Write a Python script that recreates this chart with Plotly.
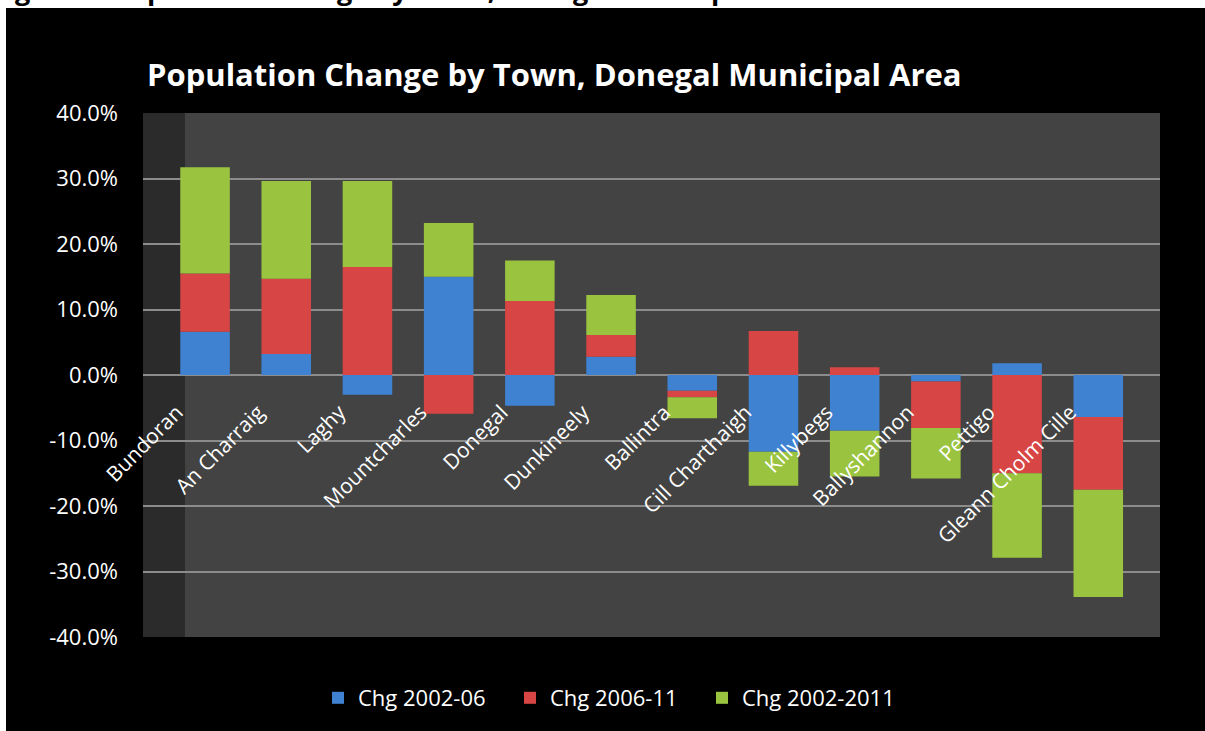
import plotly.graph_objects as go

towns = ["Bundoran", "An Charraig", "Laghy", "Mountcharles", "Donegal", "Dunkineely",
         "Ballintra", "Cill Charthaigh", "Killybegs", "Ballyshannon", "Pettigo", "Gleann Cholm Cille"]
chg_2002_06 = [6.6, 3.2, -3.0, 15.0, -4.7, 2.8, -2.4, -11.7, -8.5, -1.0, 1.8, -6.4]
chg_2006_11 = [8.9, 11.5, 16.5, -5.9, 11.3, 3.3, -1.0, 6.7, 1.2, -7.1, -15.0, -11.1]
chg_2002_2011 = [16.2, 14.9, 13.1, 8.2, 6.2, 6.1, -3.2, -5.2, -7.0, -7.7, -12.9, -16.4]

series_names = ["Chg 2002-06", "Chg 2006-11", "Chg 2002-2011"]
series_colors = ["#3f82d2", "#d84545", "#9ac43f"]

y_tick_vals = [40, 30, 20, 10, 0, -10, -20, -30, -40]
y_tick_text = ["40.0%", "30.0%", "20.0%", "10.0%", "0.0%", "-10.0%", "-20.0%", "-30.0%", "-40.0%"]

W, H = 1205, 731
L, R, T, B = 143, 1160, 113, 637
pw, ph = R - L, B - T

def px_x(x):
    return (x - L) / pw

def px_y(y):
    return (B - y) / ph

FONT = "Open Sans"

fig = go.Figure()
for name, vals, col in zip(series_names, [chg_2002_06, chg_2006_11, chg_2002_2011], series_colors):
    fig.add_trace(go.Bar(x=list(range(len(towns))), y=vals, name=name,
                         marker=dict(color=col, line=dict(width=0))))

shapes = [
    # white page strips (outside chart area)
    dict(type="rect", xref="paper", yref="paper", x0=px_x(0), x1=px_x(W), y0=px_y(8), y1=px_y(0),
         fillcolor="white", line=dict(width=0), layer="above"),
    dict(type="rect", xref="paper", yref="paper", x0=px_x(0), x1=px_x(6), y0=px_y(H), y1=px_y(0),
         fillcolor="white", line=dict(width=0), layer="above"),
    # darker left side wall
    dict(type="rect", xref="paper", yref="paper", x0=0, x1=px_x(185), y0=0, y1=1,
         fillcolor="#2b2b2b", line=dict(width=0), layer="below"),
]

fig.update_layout(
    width=W, height=H,
    margin=dict(l=L, r=W - R, t=T, b=H - B, autoexpand=False),
    paper_bgcolor="black",
    plot_bgcolor="#434343",
    barmode="relative",
    bargap=0.39,
    font=dict(family=FONT, color="white", size=21),
    title=dict(text="<b>Population Change by Town, Donegal Municipal Area</b>",
               font=dict(family=FONT, size=31, color="white"),
               xref="container", yref="container", x=147 / W, xanchor="left",
               y=1 - 75 / H, yanchor="middle"),
    xaxis=dict(range=[-0.764, 11.76], tickmode="array", tickvals=list(range(len(towns))),
               ticktext=towns, tickangle=-45, anchor="free", position=0.5,
               showgrid=False, zeroline=False, showline=False, ticks="",
               ticklabelstandoff=20, ticklabelshift=-28,
               tickfont=dict(size=21, color="white")),
    yaxis=dict(range=[-40, 40], tickmode="array", tickvals=y_tick_vals, ticktext=y_tick_text,
               showgrid=True, gridcolor="#8c8c8c", gridwidth=2, zeroline=False,
               showline=False, ticks="", ticklabelstandoff=24,
               tickfont=dict(size=22, color="white")),
    legend=dict(orientation="h", x=px_x(606), xanchor="center", y=px_y(698), yanchor="middle",
                font=dict(size=22, color="white"), bgcolor="rgba(0,0,0,0)", traceorder="normal",
                entrywidth=147, entrywidthmode="pixels"),
    shapes=shapes,
    annotations=[dict(text="<b>Figure 6: Population Change by Town, Donegal Municipal Area</b>",
                      xref="paper", yref="paper", x=px_x(-10), xanchor="left",
                      y=px_y(10.5), yanchor="bottom", showarrow=False,
                      font=dict(family=FONT, size=27, color="black"))],
)

fig.write_html("out.html", config={"displayModeBar": False},
               post_script="document.body.style.margin='0px';document.body.style.overflow='hidden';"
                           "document.body.style.background='black';")
